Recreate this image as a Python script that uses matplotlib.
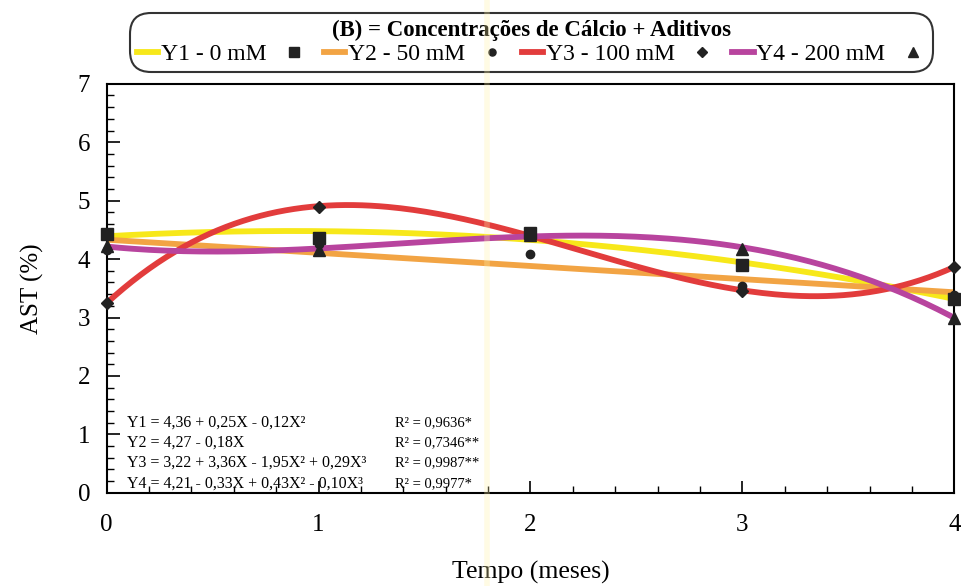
import numpy as np
import matplotlib
matplotlib.use("Agg")
from matplotlib import pyplot as plt
from matplotlib.lines import Line2D
from matplotlib.ticker import MultipleLocator

plt.rcParams['font.family'] = ['Liberation Serif', 'DejaVu Serif']

# Data
meses = [0, 1, 2, 3, 4]
y1_0mM = [4.43, 4.36, 4.45, 3.90, 3.32]
y2_50mM = [4.15, 4.25, 4.09, 3.54, 3.38]
y3_100mM = [3.25, 4.89, 4.42, 3.45, 3.87]
y4_200mM = [4.22, 4.16, 4.42, 4.18, 3.00]

labels = ["Y1 - 0 mM", "Y2 - 50 mM", "Y3 - 100 mM", "Y4 - 200 mM"]
degrees = [2, 1, 3, 3]
equations = [
    "Y1 = 4,36 + 0,25X - 0,12X²",
    "Y2 = 4,27 - 0,18X",
    "Y3 = 3,22 + 3,36X - 1,95X² + 0,29X³",
    "Y4 = 4,21 - 0,33X + 0,43X² - 0,10X³",
]
r2_texts = ["R² = 0,9636*", "R² = 0,7346**", "R² = 0,9987**", "R² = 0,9977*"]

colors = ["#f7e81a", "#f2a444", "#e23c3c", "#b8449e"]
markers = ["s", "o", "D", "^"]
marker_sizes = [9, 6, 6.5, 9]

fig = plt.figure(figsize=(9.61, 5.86), dpi=100)
ax = fig.add_axes([0.111, 0.159, 0.882, 0.698])

# Fitted curves (regression through the means), then the means
xs = np.linspace(0, 4, 200)
series = [y1_0mM, y2_50mM, y3_100mM, y4_200mM]
draw_order = [1, 0, 3, 2]
for i in draw_order:
    coef = np.polyfit(meses, series[i], degrees[i])
    ax.plot(xs, np.polyval(coef, xs), color=colors[i], lw=4.2, zorder=2 + i * 0.1,
            solid_capstyle='butt')
for i in range(4):
    ax.plot(meses, series[i], linestyle='none', marker=markers[i],
            markersize=marker_sizes[i], color='#222222', zorder=4, clip_on=False)

ax.set_xlim(0, 4)
ax.set_ylim(0, 7)
ax.xaxis.set_major_locator(MultipleLocator(1))
ax.xaxis.set_minor_locator(MultipleLocator(0.2))
ax.yaxis.set_major_locator(MultipleLocator(1))
ax.yaxis.set_minor_locator(MultipleLocator(0.2))
ax.tick_params(which='both', direction='in', top=False, right=False, labelsize=18)
ax.tick_params(which='major', length=9, width=1.2, pad=12)
ax.tick_params(axis='x', which='major', pad=15)
ax.tick_params(which='minor', length=5, width=1)
for s in ax.spines.values():
    s.set_linewidth(1.5)
ax.set_xlabel("Tempo (meses)", fontsize=18.5, labelpad=18)
ax.set_ylabel("AST (%)", fontsize=18, labelpad=24)

# Regression equations
eq_y = [1.20, 0.86, 0.51, 0.15]
for eq, r2, yy in zip(equations, r2_texts, eq_y):
    ax.text(0.094, yy, eq, fontsize=11.5, va='center')
    ax.text(1.36, yy, r2, fontsize=10.5, va='center')

# Legend: line, label, marker
handles = []
leg_labels = []
for i in range(4):
    handles.append(Line2D([], [], color=colors[i], lw=4.2))
    leg_labels.append(labels[i])
    handles.append(Line2D([], [], linestyle='none', marker=markers[i],
                          markersize=marker_sizes[i] * 0.85, color='#222222'))
    leg_labels.append("")
leg = fig.legend(handles, leg_labels, ncol=8, loc='upper center',
                 bbox_to_anchor=(0.553, 0.99), fontsize=17,
                 title="(B) = Concentrações de Cálcio + Aditivos",
                 title_fontsize=16.5, handlelength=0.9, handletextpad=0.1,
                 columnspacing=0.72, borderpad=0.1, labelspacing=0.1,
                 fancybox=True, frameon=True)
leg.get_title().set_fontweight('bold')
frame = leg.get_frame()
frame.set_edgecolor('black')
frame.set_linewidth(1.5)
frame.set_boxstyle('round,pad=0.2,rounding_size=0.9')

# faint scan stripe
fig.add_artist(Line2D([487 / 961, 487 / 961], [0, 1], transform=fig.transFigure,
                      color='#fff2a8', alpha=0.3, lw=4, zorder=10))

fig.savefig("out.png", dpi=100)
